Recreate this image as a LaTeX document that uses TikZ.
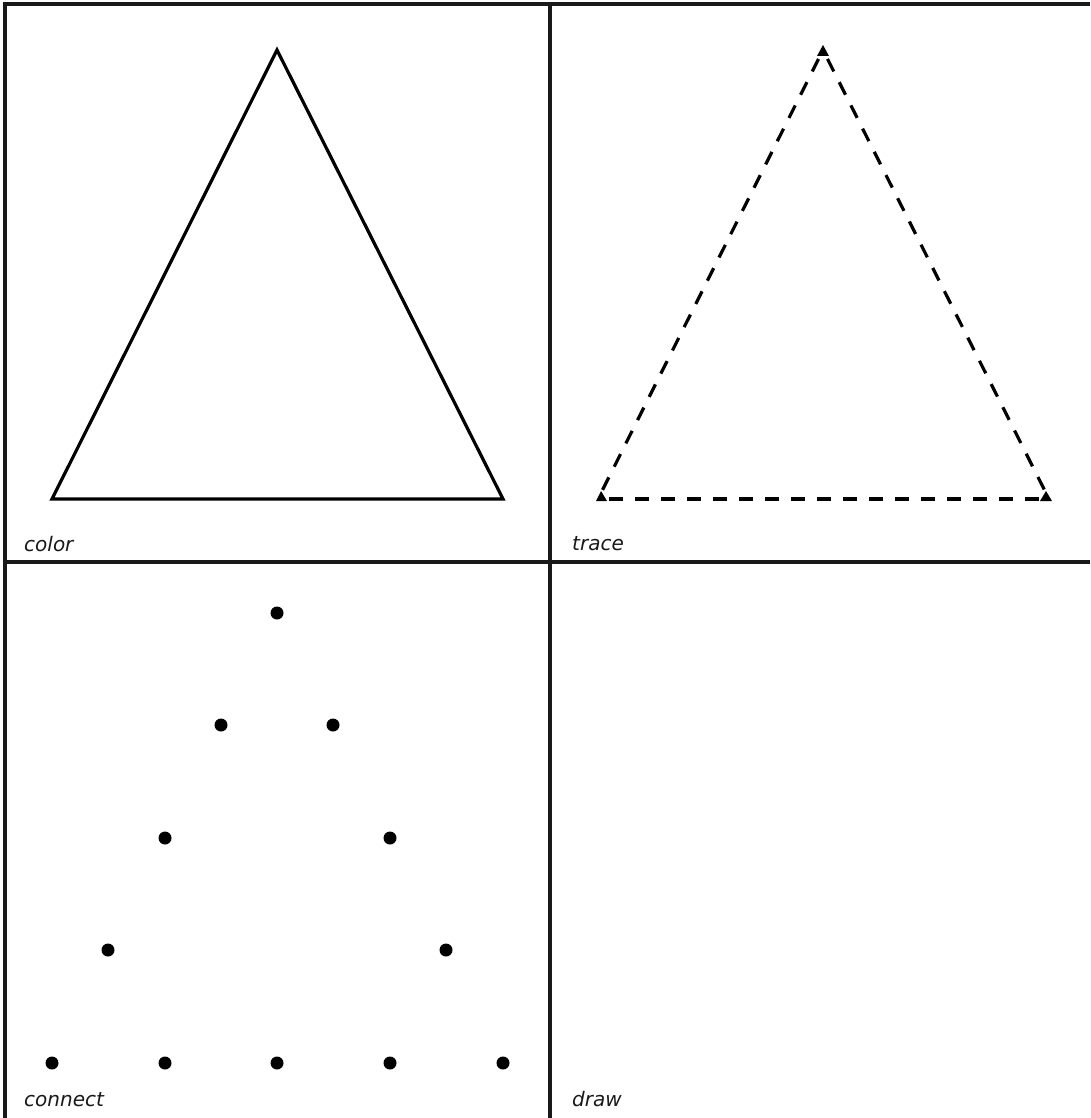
\documentclass[tikz,border=0pt]{standalone}
\usepackage{fontspec}
\setmainfont{DejaVu Sans}
\begin{document}
\begin{tikzpicture}[x=1pt,y=-1pt,
  frame/.style={line width=3.6pt,black!90},
  solidtri/.style={line width=3.2pt,line join=miter},
  dashtri/.style={line width=3.2pt,dash pattern=on 14pt off 12pt},
  cornermark/.style={fill=black},
  dotmark/.style={circle,fill=black,inner sep=0pt,minimum size=13pt},
  lbl/.style={font=\fontsize{20}{24}\selectfont\itshape,anchor=base west,inner sep=0pt,text=black!90}]
\useasboundingbox (0,0) rectangle (1090,1118);
\fill[white] (0,0) rectangle (1090,1118);
% frame
\draw[frame] (5,1118) -- (5,4) -- (1090,4);
\draw[frame] (5,562) -- (1090,562);
\draw[frame] (550,4) -- (550,1118);
% solid triangle
\draw[solidtri] (277,50) -- (503,499) -- (52,499) -- cycle;
% dashed triangle
\coordinate (ta) at (823,50);
\coordinate (tl) at (598,499);
\coordinate (tr) at (1049,499);
\draw[dashtri,dash phase=-10pt] (ta) -- (tl);
\draw[dashtri,dash phase=-10pt] (ta) -- (tr);
\draw[dashtri,dash phase=-11pt] (tl) -- (tr);
\fill[cornermark] (823,45) -- (817,56) -- (829,56) -- cycle;
\fill[cornermark] (596,501) -- (601,491) -- (607,501) -- cycle;
\fill[cornermark] (1052,501) -- (1046,491) -- (1040,501) -- cycle;
% dots
\node[dotmark] (d1) at (277,613) {};
\node[dotmark] (d2) at (221,725) {};
\node[dotmark] (d3) at (333,725) {};
\node[dotmark] (d4) at (165,838) {};
\node[dotmark] (d5) at (390,838) {};
\node[dotmark] (d6) at (108,950) {};
\node[dotmark] (d7) at (446,950) {};
\node[dotmark] (d8) at (52,1063) {};
\node[dotmark] (d9) at (165,1063) {};
\node[dotmark] (d10) at (277,1063) {};
\node[dotmark] (d11) at (390,1063) {};
\node[dotmark] (d12) at (503,1063) {};
% labels
\node[lbl] (lcolor) at (24,551) {color};
\node[lbl] (ltrace) at (572,550) {trace};
\node[lbl] (lconnect) at (24,1106) {connect};
\node[lbl] (ldraw) at (572,1106) {draw};
\end{tikzpicture}
\end{document}
